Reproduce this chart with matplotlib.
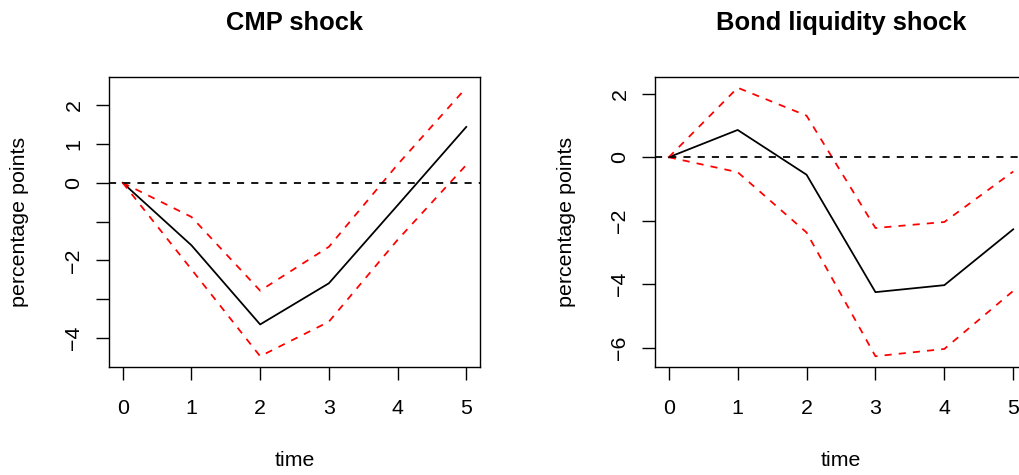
import numpy as np
import matplotlib
matplotlib.use('Agg')
import matplotlib.pyplot as plt

plt.rcParams['font.family'] = ['Liberation Sans', 'DejaVu Sans']

# impulse responses with error bands
time = [0, 1, 2, 3, 4, 5]
cmp_irf = [0, -1.61, -3.65, -2.59, -0.58, 1.44]
cmp_upper = [0, -0.88, -2.78, -1.65, 0.47, 2.45]
cmp_lower = [0, -2.23, -4.47, -3.58, -1.47, 0.46]
bond_irf = [0, 0.86, -0.55, -4.25, -4.03, -2.27]
bond_upper = [0, 2.19, 1.31, -2.23, -2.04, -0.45]
bond_lower = [0, -0.47, -2.37, -6.27, -6.04, -4.21]

cmp_yticks = [-4, -3, -2, -1, 0, 1, 2]
cmp_ylabels = ['\u22124', '', '\u22122', '', '0', '1', '2']
bond_yticks = [-6, -4, -2, 0, 2]
bond_ylabels = ['\u22126', '\u22124', '\u22122', '0', '2']

W, H = 1020, 475
fig = plt.figure(figsize=(W / 100, H / 100), dpi=100)

lw = 1.28
dash = (0, (4, 4))
fs = 15.4


def px(x, y):
    return x / W, 1 - y / H


def panel(left, width, title, irf, upper, lower, yticks, ylabels):
    ax = fig.add_axes([left / W, (H - 367) / H, width / W, 290 / H])
    ax.plot(time, irf, color='black', lw=lw)
    ax.plot(time, upper, color='red', lw=lw, linestyle=dash)
    ax.plot(time, lower, color='red', lw=lw, linestyle=dash)
    ax.axhline(0, color='black', lw=lw, linestyle=dash)

    # R style axis range: data range plus 4%
    lo = min(lower + irf + upper)
    hi = max(lower + irf + upper)
    pad = 0.04 * (hi - lo)
    ax.set_ylim(lo - pad, hi + pad)
    ax.set_xlim(-0.2, 5.2)

    ax.set_xticks(time)
    ax.set_xticklabels([str(t) for t in time], fontsize=fs)
    ax.set_yticks(yticks)
    ax.set_yticklabels(ylabels, fontsize=fs, rotation=90, va='center')
    ax.tick_params(axis='both', length=9.4, width=1.0, direction='out')
    ax.tick_params(axis='x', pad=14)
    ax.tick_params(axis='y', pad=9)
    for s in ax.spines.values():
        s.set_linewidth(1.0)

    cx = left + width / 2
    fig.text(*px(cx, 23), title, fontsize=18.4, fontweight='bold',
             ha='center', va='center')
    fig.text(*px(cx, 460), 'time', fontsize=fs, ha='center', va='center')
    fig.text(*px(left - 89, 222), 'percentage points', fontsize=fs,
             rotation=90, ha='center', va='center')
    return ax


panel(109, 371, 'CMP shock', cmp_irf, cmp_upper, cmp_lower,
      cmp_yticks, cmp_ylabels)
panel(655, 372, 'Bond liquidity shock', bond_irf, bond_upper, bond_lower,
      bond_yticks, bond_ylabels)

fig.savefig('out.png', dpi=100)
